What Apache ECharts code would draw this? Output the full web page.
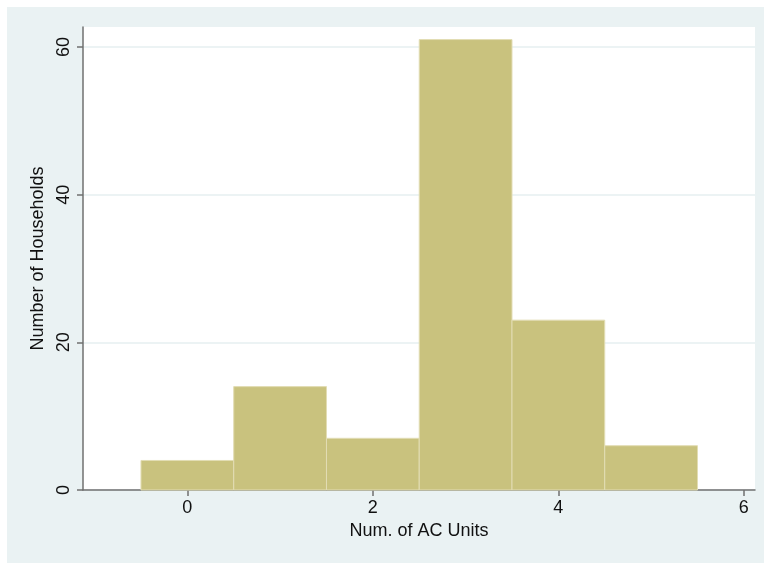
<!DOCTYPE html>
<html>
<head>
<meta charset="utf-8">
<script src="https://cdn.jsdelivr.net/npm/echarts@6/dist/echarts.min.js"></script>
<style>
  html, body { margin: 0; padding: 0; background: #ffffff; }
  #chart { width: 764px; height: 563px; }
</style>
</head>
<body>
<div id="chart"></div>
<script>
// ---- data ----
const binCenters = [0, 1, 2, 3, 4, 5];
const binWidth = 1;
const counts = [4, 14, 7, 61, 23, 6];
const xTicks = [0, 2, 4, 6];
const yTicks = [0, 20, 40, 60];
const yStep = 20;
const xTitle = 'Num. of AC Units';
const yTitle = 'Number of Households';

const histData = binCenters.map((c, i) => [c - binWidth / 2, c + binWidth / 2, counts[i]]);

const FONT = '"Liberation Sans", Arial, Helvetica, sans-serif';
const chart = echarts.init(document.getElementById('chart'), null, { renderer: 'canvas' });

chart.setOption({
  animation: false,
  backgroundColor: '#ffffff',
  graphic: [{
    type: 'rect', z: -10, silent: true,
    shape: { x: 7, y: 7, width: 764, height: 563 },
    style: { fill: '#eaf2f3' }
  }],
  grid: {
    left: 83, right: 9, top: 27, bottom: 73,
    show: true, backgroundColor: '#ffffff', borderWidth: 0
  },
  xAxis: {
    type: 'value', min: -1.125, max: 6.12,
    name: xTitle, nameLocation: 'middle', nameGap: 30,
    nameTextStyle: { fontFamily: FONT, fontSize: 18, color: '#111' },
    axisLine: { show: true, onZero: false, lineStyle: { color: '#707070', width: 1.5 } },
    axisTick: { show: true, customValues: xTicks, length: 6, lineStyle: { color: '#707070', width: 1.5 } },
    axisLabel: { customValues: xTicks, fontFamily: FONT, fontSize: 18, color: '#111', margin: 9 },
    splitLine: { show: false }
  },
  yAxis: {
    type: 'value', min: 0, max: 62.7, interval: yStep,
    name: yTitle, nameLocation: 'middle', nameGap: 36, nameRotate: 90,
    nameTextStyle: { fontFamily: FONT, fontSize: 18, color: '#111' },
    axisLine: { show: true, onZero: false, lineStyle: { color: '#707070', width: 1.5 } },
    axisTick: { show: true, customValues: yTicks, length: 6, lineStyle: { color: '#707070', width: 1.5 } },
    axisLabel: { customValues: yTicks, rotate: 90, fontFamily: FONT, fontSize: 18, color: '#111', margin: 10 },
    splitLine: { show: true, lineStyle: { color: '#e6eff1', width: 1.5 } }
  },
  series: [
    {
      type: 'custom', z: 2,
      encode: { x: [0, 1], y: 2 },
      data: histData,
      renderItem: function (params, api) {
        const p0 = api.coord([api.value(0), api.value(2)]);
        const p1 = api.coord([api.value(1), 0]);
        return {
          type: 'rect',
          shape: { x: p0[0], y: p0[1], width: p1[0] - p0[0], height: p1[1] - p0[1] },
          style: { fill: '#c9c27e', stroke: '#e2ddb4', lineWidth: 1 }
        };
      }
    }
  ]
});
</script>
</body>
</html>
